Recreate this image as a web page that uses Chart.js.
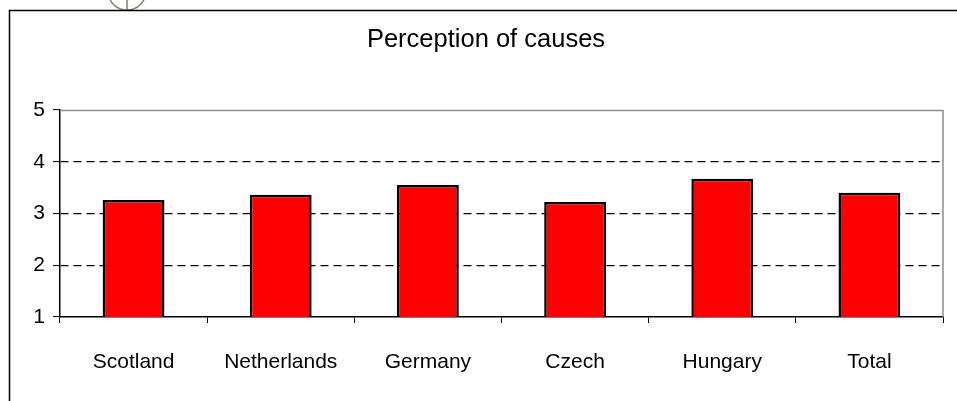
<!DOCTYPE html>
<html>
<head>
<meta charset="utf-8">
<script src="https://cdn.jsdelivr.net/npm/chart.js@4/dist/chart.umd.min.js"></script>
<style>
  html, body { margin: 0; padding: 0; background: #fff; }
  #wrap { width: 957px; height: 401px; }
</style>
</head>
<body>
<div id="wrap"><canvas id="c" width="957" height="401"></canvas></div>
<script>
// Chart content
const chartTitle = 'Perception of causes';
const countries = ['Scotland', 'Netherlands', 'Germany', 'Czech', 'Hungary', 'Total'];
const causeScores = [3.26, 3.36, 3.55, 3.22, 3.67, 3.40];
const yTicks = [1, 2, 3, 4, 5];

const FONT = "'Liberation Sans', Arial, sans-serif";
Chart.defaults.font.family = FONT;
Chart.defaults.color = '#000';

// Chart box frame, plot-area border, title and the small page marker
const framePlugin = {
  id: 'frame',
  beforeDraw(chart) {
    const ctx = chart.ctx;
    ctx.save();
    // page marker above the chart box
    ctx.strokeStyle = '#8a7b6c';
    ctx.lineWidth = 1.5;
    ctx.beginPath();
    ctx.arc(127, -9, 19, 0, Math.PI * 2);
    ctx.stroke();
    ctx.beginPath();
    ctx.moveTo(127, 0);
    ctx.lineTo(127, 10);
    ctx.stroke();
    // chart box
    ctx.fillStyle = '#fff';
    ctx.fillRect(9, 10, chart.width - 9, chart.height - 10);
    ctx.strokeStyle = '#000';
    ctx.lineWidth = 1.5;
    ctx.beginPath();
    ctx.moveTo(9.5, chart.height);
    ctx.lineTo(9.5, 10.5);
    ctx.lineTo(chart.width, 10.5);
    ctx.stroke();
    // title, centred over the chart box
    ctx.fillStyle = '#000';
    ctx.font = '25.5px ' + FONT;
    ctx.textAlign = 'center';
    ctx.textBaseline = 'middle';
    ctx.fillText(chartTitle, 486, 40);
    ctx.restore();
  },
  beforeDatasetsDraw(chart) {
    const {ctx, chartArea} = chart;
    const y = chart.scales.y;
    const top = Math.round(y.getPixelForValue(yTicks[yTicks.length - 1])) + 0.5;
    ctx.save();
    ctx.strokeStyle = '#8c8c8c';
    ctx.lineWidth = 1.5;
    ctx.beginPath();
    ctx.moveTo(chartArea.left, top);
    ctx.lineTo(chartArea.right, top);
    ctx.lineTo(chartArea.right, chartArea.bottom);
    ctx.stroke();
    ctx.restore();
  }
};

new Chart(document.getElementById('c'), {
  type: 'bar',
  data: {
    labels: countries,
    datasets: [{
      data: causeScores,
      backgroundColor: '#ff0000',
      borderColor: '#000',
      borderWidth: 2.5,
      borderSkipped: false,
      barPercentage: 0.42,
      categoryPercentage: 1
    }]
  },
  options: {
    responsive: false,
    animation: false,
    layout: { padding: { left: 0, right: 14, top: 110, bottom: 0 } },
    plugins: {
      legend: { display: false },
      tooltip: { enabled: false },
      title: { display: false }
    },
    scales: {
      x: {
        grid: {
          offset: true,
          drawOnChartArea: false,
          drawTicks: true,
          tickLength: 6,
          tickColor: '#000',
          tickWidth: 1
        },
        border: { display: true, color: '#000', width: 1.5 },
        ticks: { padding: 27, font: { size: 21 }, color: '#000' },
        afterFit(scale) { scale.height = 84; }
      },
      y: {
        min: 1,
        max: 5,
        afterBuildTicks(scale) { scale.ticks = yTicks.map(v => ({ value: v })); },
        grid: {
          color: ctx => (ctx.tick && ctx.tick.value > yTicks[0] && ctx.tick.value < yTicks[yTicks.length - 1]) ? '#000' : 'rgba(0,0,0,0)',
          lineWidth: 1.2,
          drawTicks: true,
          tickLength: 7,
          tickColor: '#000',
          tickWidth: 1
        },
        border: { display: true, color: '#000', width: 1.5, dash: [8, 5] },
        ticks: { padding: 8, font: { size: 21 }, color: '#000' },
        afterFit(scale) { scale.width = 60; }
      }
    }
  },
  plugins: [framePlugin]
});
</script>
</body>
</html>
